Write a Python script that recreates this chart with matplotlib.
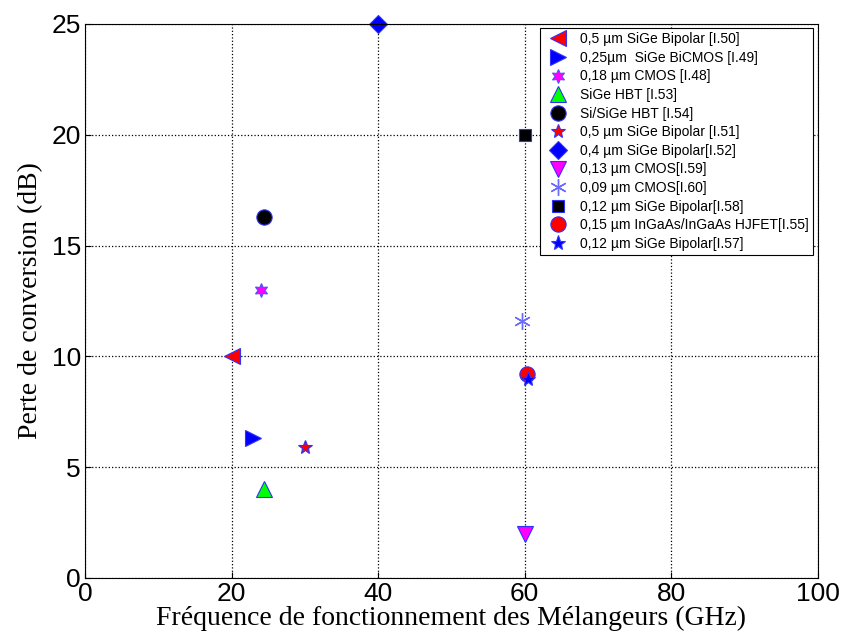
import matplotlib
matplotlib.use("Agg")
import matplotlib.pyplot as plt

# données : fréquence (GHz), perte de conversion (dB)
labels = ["0,5 µm SiGe Bipolar [I.50]",
          "0,25µm  SiGe BiCMOS [I.49]",
          "0,18 µm CMOS [I.48]",
          "SiGe HBT [I.53]",
          "Si/SiGe HBT [I.54]",
          "0,5 µm SiGe Bipolar [I.51]",
          "0,4 µm SiGe Bipolar[I.52]",
          "0,13 µm CMOS[I.59]",
          "0,09 µm CMOS[I.60]",
          "0,12 µm SiGe Bipolar[I.58]",
          "0,15 µm InGaAs/InGaAs HJFET[I.55]",
          "0,12 µm SiGe Bipolar[I.57]"]
freq = [20, 23, 24, 24.5, 24.5, 30, 40, 60, 59.6, 60, 60.3, 60.5]
perte = [10, 6.3, 13, 4, 16.3, 5.9, 25, 2, 11.6, 20, 9.2, 9.0]

markers = ["<", ">", "h", "^", "o", "*", "D", "v", "*", "s", "o", "*"]
colors = ["red", "blue", "magenta", "lime", "black", "red", "blue", "magenta",
          "#6a6aff", "black", "red", "blue"]
sizes = [12, 12, 10, 12, 11, 10, 9, 12, 12, 8, 11, 11]

fig = plt.figure(figsize=(8.45, 6.41), dpi=100)
ax = fig.add_axes([0.1006, 0.0983, 0.8669, 0.8643])

for i in range(len(labels)):
    if i == 8:
        # astérisque type MATLAB
        ax.plot(freq[i], perte[i], linestyle="none", marker=(6, 2, 0), color=colors[i],
                markersize=sizes[i], markeredgewidth=1, label=labels[i], clip_on=False)
    elif markers[i] == "h":
        ax.plot(freq[i], perte[i], linestyle="none", marker=(6, 1, 0), color=colors[i],
                markersize=sizes[i], markeredgecolor="#5050ff", markeredgewidth=0.8,
                label=labels[i], clip_on=False)
    else:
        ax.plot(freq[i], perte[i], linestyle="none", marker=markers[i], color=colors[i],
                markersize=sizes[i], markeredgecolor="#3030ff", markeredgewidth=0.8,
                label=labels[i], clip_on=False)

ax.set_xlim(0, 100)
ax.set_ylim(0, 25)
ax.set_xticks([0, 20, 40, 60, 80, 100])
ax.set_yticks([0, 5, 10, 15, 20, 25])
ax.tick_params(labelsize=19, direction="in", length=4, pad=3)
for lab in ax.get_xticklabels() + ax.get_yticklabels():
    lab.set_family("Liberation Sans")
ax.grid(True, linestyle=":", color="black", linewidth=0.9)

ax.set_xlabel("Fréquence de fonctionnement des Mélangeurs (GHz)",
              family="Liberation Serif", fontsize=20, labelpad=0)
ax.set_ylabel("Perte de conversion (dB)", family="Liberation Serif",
              fontsize=20, labelpad=6)

leg = ax.legend(loc="upper right", prop={"family": "Liberation Sans", "size": 10},
                fancybox=False, framealpha=1, edgecolor="black", borderaxespad=0.3,
                handletextpad=0.6, labelspacing=0.33, borderpad=0.3)
leg.get_frame().set_linewidth(0.8)

fig.savefig("out.png", dpi=100)
